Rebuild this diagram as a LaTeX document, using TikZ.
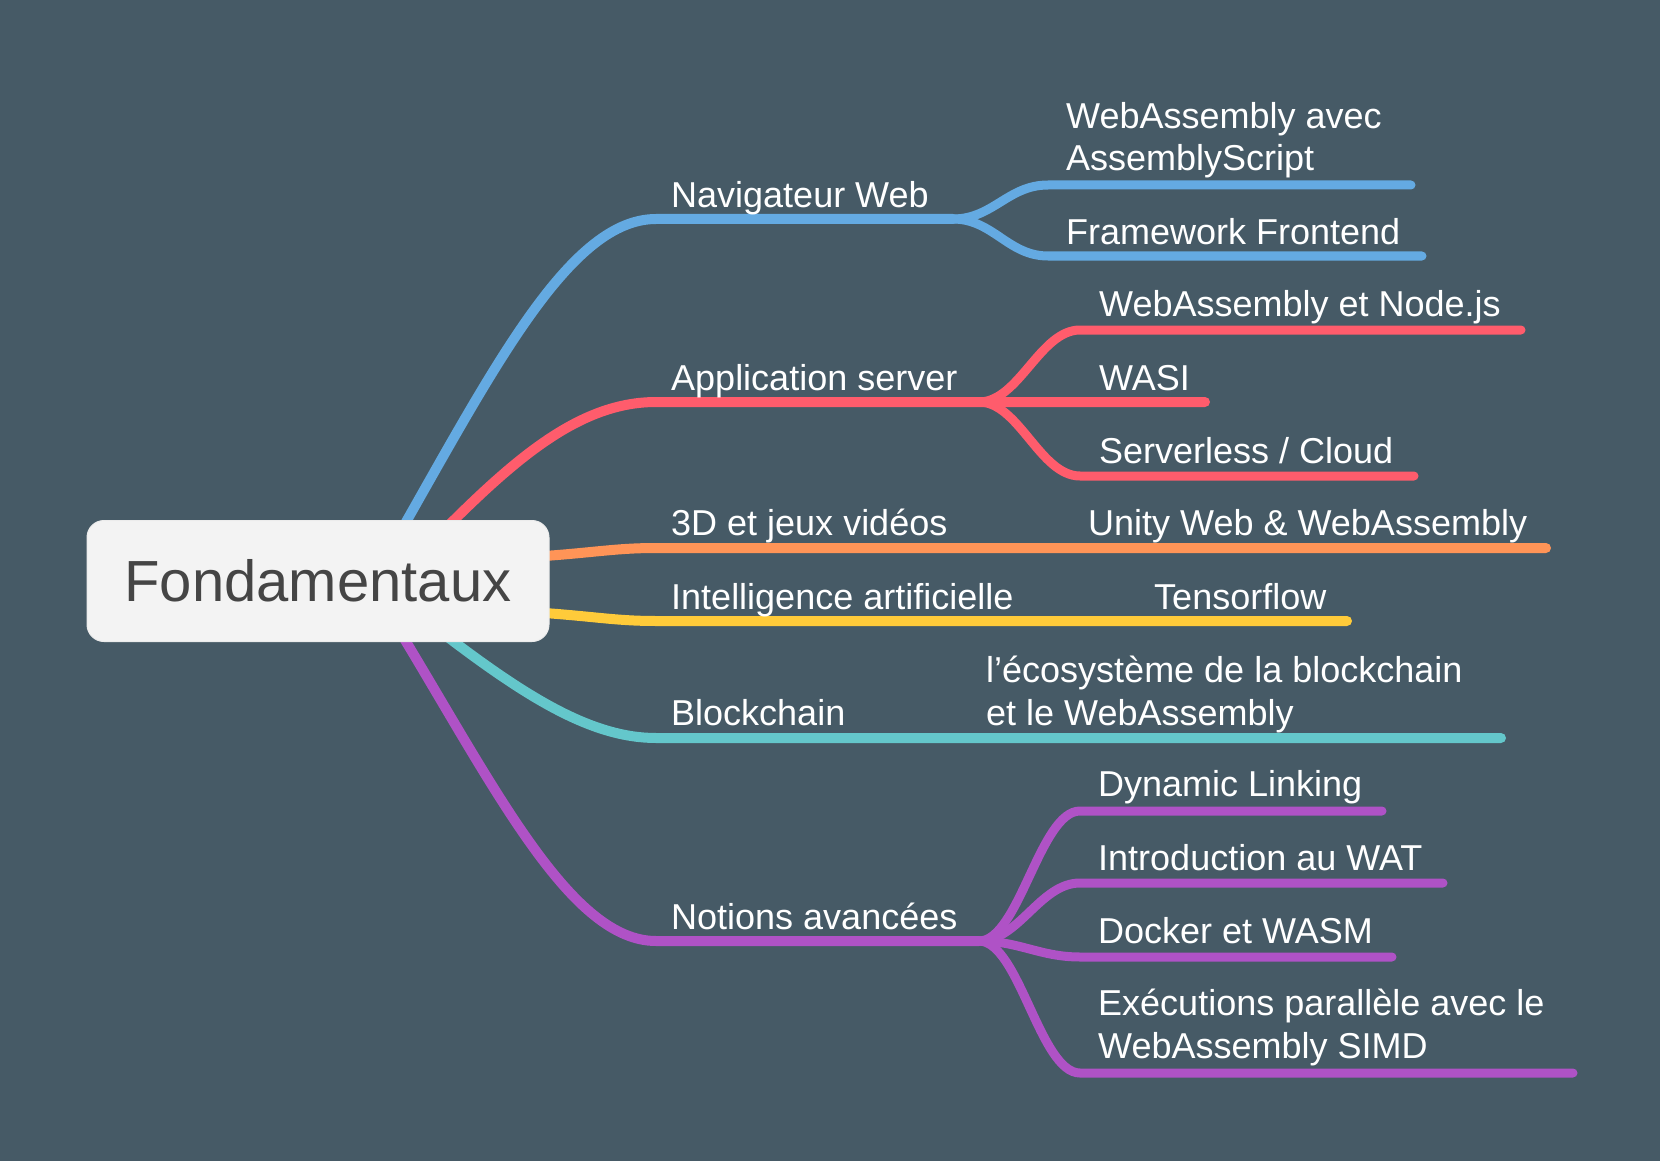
\documentclass[tikz,border=0pt]{standalone}
\usepackage{fontspec}
\setmainfont{Liberation Sans}

\definecolor{fond}{HTML}{465A66}
\definecolor{cBleu}{HTML}{64AAE2}
\definecolor{cRouge}{HTML}{FF5C6C}
\definecolor{cOrange}{HTML}{FF9457}
\definecolor{cJaune}{HTML}{FFCB3A}
\definecolor{cTurq}{HTML}{64C7CB}
\definecolor{cViolet}{HTML}{AF52C6}
\definecolor{rootFill}{HTML}{F3F3F3}
\definecolor{rootText}{HTML}{454545}

\begin{document}
\begin{tikzpicture}[x=1pt, y=-1pt,
	branch/.style={line width=10pt, line cap=round},
	sub/.style={line width=9pt, line cap=round},
	fork/.style={out=0, in=180, distance=40pt},
	lab/.style={text=white, font=\fontsize{36}{42.4}\selectfont, inner sep=0pt, anchor=base west, align=left}]
			
			\fill[fond] (0,0) rectangle (1660,1161);
			
			% points des branches
			\coordinate (b0) at (402,529);
			\coordinate (b1) at (656,219);
			\coordinate (bf) at (953,219);
			\coordinate (b2) at (1048,185);
			\coordinate (b3) at (1048,256);
			
			\coordinate (r0) at (445,529);
			\coordinate (r1) at (656,402);
			\coordinate (rf) at (979,402);
			\coordinate (r2) at (1080,330);
			\coordinate (r3) at (1205,402);
			\coordinate (r4) at (1080,476);
			
			\coordinate (o0) at (530,557);
			\coordinate (o1) at (656,548);
			\coordinate (o2) at (1546,548);
			
			\coordinate (y0) at (530,612);
			\coordinate (y1) at (656,621);
			\coordinate (y2) at (1347,621);
			
			\coordinate (t0) at (445,635);
			\coordinate (t1) at (656,738);
			\coordinate (t2) at (1501,738);
			
			\coordinate (p0) at (402,635);
			\coordinate (p1) at (656,941);
			\coordinate (pf) at (979,941);
			\coordinate (p2) at (1080,811);
			\coordinate (p3) at (1080,883);
			\coordinate (p4) at (1080,957);
			\coordinate (p5) at (1080,1073);
			
			\draw[branch, cBleu] (b0) .. controls (498,360) and (572,219) .. (b1) -- (bf);
			\draw[sub, cBleu] (bf) to[fork] (b2) -- (1411,185);
			\draw[sub, cBleu] (bf) to[fork] (b3) -- (1422,256);
			
			\draw[branch, cRouge] (r0) .. controls (519,455) and (582,402) .. (r1) -- (r3);
			\draw[sub, cRouge] (rf) to[fork] (r2) -- (1521,330);
			\draw[sub, cRouge] (rf) to[fork] (r4) -- (1414,476);
			
			\draw[branch, cOrange] (o0) .. controls (593,553) and (614,548) .. (o1) -- (o2);
			\draw[branch, cJaune] (y0) .. controls (593,616) and (614,621) .. (y1) -- (y2);
			\draw[branch, cTurq] (t0) .. controls (529,699) and (593,738) .. (t1) -- (t2);
			
			\draw[branch, cViolet] (p0) .. controls (498,794) and (572,941) .. (p1) -- (pf);
			\draw[sub, cViolet] (pf) to[fork] (p2) -- (1382,811);
			\draw[sub, cViolet] (pf) to[fork] (p3) -- (1443,883);
			\draw[sub, cViolet] (pf) to[fork] (p4) -- (1392,957);
			\draw[sub, cViolet] (pf) to[fork] (p5) -- (1573,1073);
			
			\node[draw=white!85!gray, line width=1pt, fill=rootFill, rounded corners=17pt,
				minimum width=462pt, minimum height=121pt, text=rootText,
				font=\fontsize{58}{70}\selectfont] (root) at (318,581) {Fondamentaux};
			
			\node[lab] (nav) at (671,208) {Navigateur Web};
			\node[lab] (asc) at (1066,171) {WebAssembly avec\\AssemblyScript};
			\node[lab] (front) at (1066,244) {Framework Frontend};
			
			\node[lab] (app) at (671,390) {Application server};
			\node[lab] (nodejs) at (1099,316) {WebAssembly et Node.js};
			\node[lab] (wasi) at (1099,390) {WASI};
			\node[lab] (cloud) at (1099,463) {Serverless / Cloud};
			
			\node[lab] (jeux) at (671,535) {3D et jeux vidéos};
			\node[lab] (unity) at (1088,535) {Unity Web \& WebAssembly};
			
			\node[lab] (ia) at (671,609) {Intelligence artificielle};
			\node[lab] (tf) at (1154,609) {Tensorflow};
			
			\node[lab] (chain) at (671,725) {Blockchain};
			\node[lab] (eco) at (986,725) {l’écosystème de la blockchain\\et le WebAssembly};
			
			\node[lab] (notions) at (671,929) {Notions avancées};
			\node[lab] (dyn) at (1098,796) {Dynamic Linking};
			\node[lab] (wat) at (1098,870) {Introduction au WAT};
			\node[lab] (docker) at (1098,943) {Docker et WASM};
			\node[lab] (simd) at (1098,1058) {Exécutions parallèle avec le\\WebAssembly SIMD};
		\end{tikzpicture}
\end{document}
